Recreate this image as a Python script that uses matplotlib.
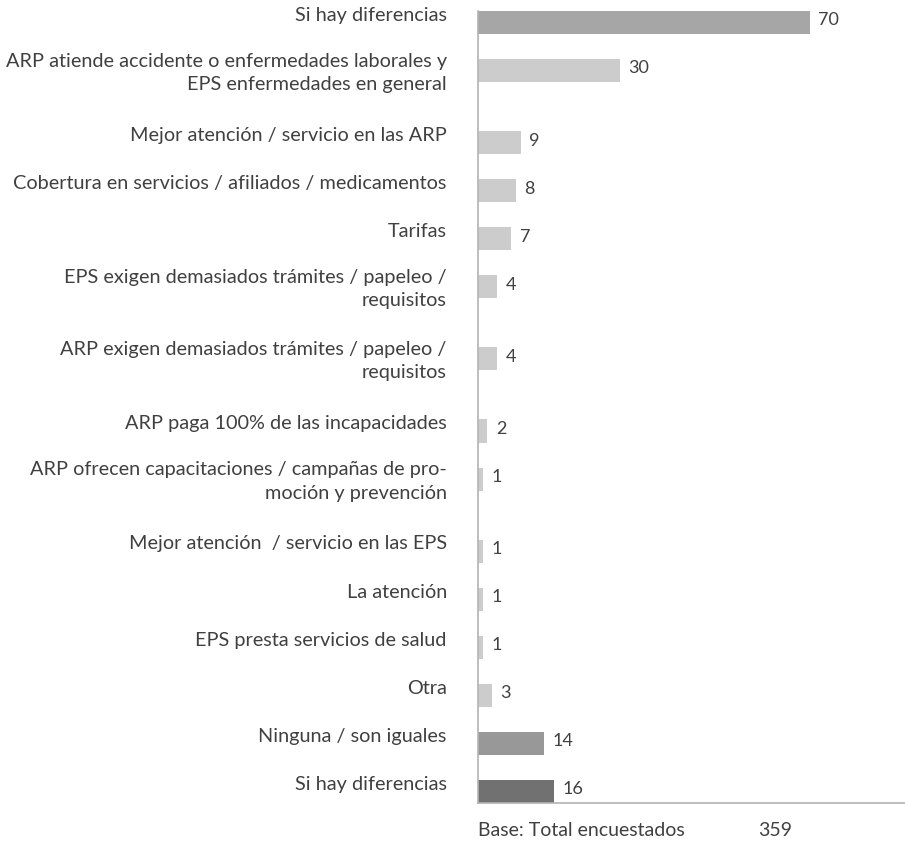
import matplotlib
matplotlib.use("Agg")
import matplotlib.pyplot as plt

plt.rcParams['font.family'] = ['Lato', 'DejaVu Sans']

# Respuestas (de arriba hacia abajo)
categories = [
    'Si hay diferencias',
    'ARP atiende accidente o enfermedades laborales y\nEPS enfermedades en general',
    'Mejor atención / servicio en las ARP',
    'Cobertura en servicios / afiliados / medicamentos',
    'Tarifas',
    'EPS exigen demasiados trámites / papeleo /\nrequisitos',
    'ARP exigen demasiados trámites / papeleo /\nrequisitos',
    'ARP paga 100% de las incapacidades',
    'ARP ofrecen capacitaciones / campañas de pro-\nmoción y prevención',
    'Mejor atención  / servicio en las EPS',
    'La atención',
    'EPS presta servicios de salud',
    'Otra',
    'Ninguna / son iguales',
    'Si hay diferencias',
]
values = [70, 30, 9, 8, 7, 4, 4, 2, 1, 1, 1, 1, 3, 14, 16]
colors = ['#a6a6a6'] + ['#cccccc'] * 12 + ['#989898', '#717171']
base_label = 'Base: Total encuestados'
base_total = 359

text_color = '#404040'

# rows with two-line labels take a bit more room
pos = []
y = 0.0
for i, cat in enumerate(categories):
    pos.append(y)
    y += 1.5 if '\n' in cat else 1.0

fig = plt.figure(figsize=(9.05, 8.6), dpi=100)
ax = fig.add_axes([478 / 905, 1 - 803 / 860, 1 - 478 / 905, (803 - 10.5) / 860])

bar_h = 0.48
ax.barh(pos, values, height=bar_h, color=colors, zorder=2)

ax.set_xlim(0, 90)
ax.set_ylim(pos[-1] + 0.24, -0.25)

for p, v, cat in zip(pos, values, categories):
    ax.annotate(str(v), xy=(v, p), xytext=(6, 1.5), textcoords='offset points',
                ha='left', va='center', fontsize=13, color=text_color)
    dy = 3 if '\n' not in cat else 4.5
    ax.annotate(cat, xy=(0, p - bar_h / 2), xytext=(-22.5, dy),
                textcoords='offset points', ha='right', va='top',
                fontsize=14.3, color=text_color, linespacing=1.45,
                annotation_clip=False)

for side in ['top', 'right']:
    ax.spines[side].set_visible(False)
for side in ['left', 'bottom']:
    ax.spines[side].set_color('#b3b3b3')
    ax.spines[side].set_linewidth(1.2)
ax.set_xticks([])
ax.set_yticks([])

fig.text(478 / 905, 1 - 830 / 860, base_label, ha='left', va='center',
         fontsize=14, color=text_color)
fig.text(758 / 905, 1 - 830 / 860, str(base_total), ha='left', va='center',
         fontsize=14, color=text_color)

fig.savefig('out.png', dpi=100)
